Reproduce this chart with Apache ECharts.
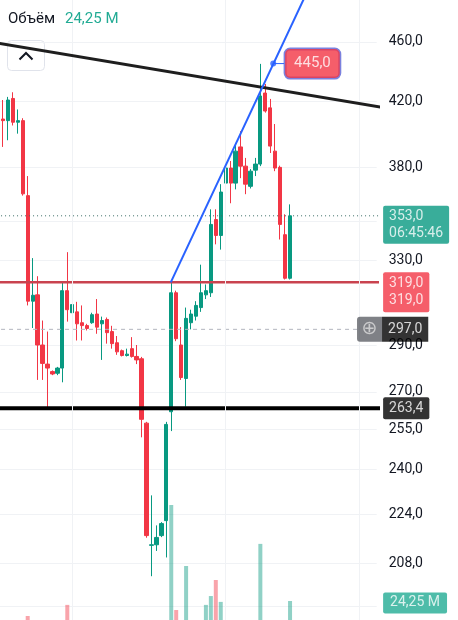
<!DOCTYPE html>
<html>
<head>
<meta charset="utf-8">
<script src="https://cdn.jsdelivr.net/npm/echarts@6/dist/echarts.min.js"></script>
<style>
    html, body { margin: 0; padding: 0; background: #fff; }
    #chart { width: 458px; height: 620px; }
</style>
</head>
<body>
<div id="chart"></div>
<script>
    // свечи: [open, close, low, high]
    const candles = [
        [397.3, 406.5, 396, 408], [409, 408, 392, 421], [408, 421, 396, 423], [422, 407, 405, 426],
        [407, 408, 400, 415], [408, 365, 364, 409.5], [364, 310, 308, 375], [310, 312.8, 297.6, 331],
        [313, 290, 275, 322], [290, 282, 275, 301], [281.7, 280, 262.7, 296], [278.5, 277.5, 277, 279],
        [277.8, 280, 277, 280.5], [280, 315, 274, 319], [315, 306, 300.5, 334], [304.6, 308.4, 300.5, 320],
        [305, 299.5, 292, 309.7], [300, 298.7, 292, 308], [298.7, 297.4, 296.5, 299.5], [300, 303.7, 299.5, 304.6],
        [304, 298, 295, 311], [299.5, 301, 283.5, 302.8], [301.5, 295.5, 290.6, 302.4], [296, 290.6, 288.4, 298.6],
        [291, 287, 285.7, 294], [287.5, 285.4, 285, 288], [285.4, 286, 285, 288.4], [288.4, 285, 284.5, 293.5],
        [285, 283.5, 281.7, 290], [284, 259, 252, 284.8], [257.5, 217, 216.3, 258], [213.8, 214, 204, 230.7],
        [214, 216.4, 212, 220.4], [217, 221, 216.5, 221.5], [222, 257, 209.9, 258], [262, 314, 254.4, 319],
        [314, 292.8, 291.7, 315], [290, 276, 275, 298], [275.6, 302, 264, 307], [300, 304, 297, 306],
        [303, 308, 301, 310], [307, 314, 305, 327.7], [313, 315, 311, 318], [314, 348.4, 312, 356.5],
        [351, 342.6, 338, 356.5], [342.6, 366, 335.3, 370.4], [371, 379.6, 366.5, 382.5], [379.6, 371, 359.8, 383.7],
        [371, 389.5, 367.5, 393.7], [392, 380.7, 373.8, 401.5], [380.7, 370.4, 364.8, 385.5], [369.2, 377.8, 368, 379],
        [378.4, 381.9, 375, 385.5], [381.9, 423.6, 380.7, 444.8], [425.5, 414, 413, 431.4], [416, 392.5, 388.4, 421.7],
        [389.5, 379.6, 377.8, 405.9], [380, 348.4, 340.5, 381], [343, 321, 320.4, 353.8], [321, 353, 320.4, 359.2]
    ];
    // объём, млн
    const volumes = [
        4, 5, 4, 5, 3, 7, 11.7, 6, 7, 5, 6, 3, 3, 8, 21, 5, 4, 3, 2, 3,
        4, 5, 4, 4, 3, 2, 2, 3, 3, 8, 8, 6, 4, 3, 8, 104.5, 16.7, 8, 53.5, 6,
        7, 8, 21, 28.4, 41.8, 23.5, 7, 6, 8, 6, 5, 4, 5, 72, 8, 8, 7, 8, 8, 24.25
    ];
    const priceTicks = [460, 420, 380, 330, 290, 270, 255, 240, 224, 208];
    const gridPrices = [460, 420, 380, 350, 330, 290, 270, 255, 240, 224, 208, 195];
    const gridBars = [15, 46, 73];

    const lastPrice = 353;
    const timerText = '06:45:46';
    const alertPrice = 319;
    const crossPrice = 297;
    const supportPrice = 263.4;
    const lastVolume = 24.25;
    const resistLine = [[-1, 459.6], [77.6, 416.3]];
    const trendLine = [[34.9, 319], [62.1, 493.5]];
    const markPrice = 445;
    const markAt = 55.6;
    const markLabelAt = 57.8;
    const lineStart = -1;
    const labelAt = 77.6;
    const crossEnd = 72.53;

    const UP = '#089981', DOWN = '#f23645';
    const N = 77;
    const cats = [];
    for (let i = 0; i < N; i++) cats.push(String(i));
    const candleData = cats.map((c, i) => candles[i] || '-');
    const volumeData = cats.map((c, i) => {
        if (volumes[i] === undefined) return '-';
        const up = candles[i][1] >= candles[i][0];
        return { value: volumes[i], itemStyle: { color: up ? 'rgba(8,153,129,0.45)' : 'rgba(242,54,69,0.45)' } };
    });
    const fmt = v => v.toFixed(1).replace('.', ',');

    function level(price, end, style) {
        return {
            type: 'line', xAxisIndex: 1, yAxisIndex: 0, clip: false, silent: true,
            symbol: 'none', z: 4,
            data: [[lineStart, price], [end, price]],
            lineStyle: style
        };
    }

    const myChart = echarts.init(document.getElementById('chart'));
    const gridPos = { left: -4.475, width: N * 4.95, outerBoundsMode: 'none' };

    const option = {
        animation: false,
        title: {
            left: 8, top: 10, padding: 0,
            text: '{a|Объём}  {b|24,25 M}',
            textStyle: {
                fontWeight: 'normal',
                rich: {
                    a: { fontSize: 15, color: '#131722', fontFamily: 'Roboto', fontWeight: 'normal' },
                    b: { fontSize: 15, color: '#22ab94', fontFamily: 'Roboto', fontWeight: 'normal' }
                }
            }
        },
        grid: [
            Object.assign({ top: 0, height: 620 }, gridPos),
            Object.assign({ top: 450, height: 180 }, gridPos)
        ],
        xAxis: [
            { type: 'category', gridIndex: 0, data: cats, show: false },
            { type: 'value', gridIndex: 0, min: -0.5, max: N - 0.5, show: false },
            { type: 'category', gridIndex: 1, data: cats, show: false },
            { type: 'value', gridIndex: 1, min: -0.5, max: N - 0.5, show: false }
        ],
        yAxis: [
            {
                type: 'log', gridIndex: 0, min: 190.85, max: 490.2, position: 'right',
                axisLine: { show: true, lineStyle: { color: '#b2b5be', type: [4, 3] } },
                axisTick: { show: false, customValues: gridPrices },
                axisLabel: {
                    customValues: priceTicks, margin: 12, color: '#131722',
                    fontSize: 14, fontFamily: 'Roboto', formatter: v => fmt(v)
                },
                splitLine: { show: true, lineStyle: { color: '#f0f2f5' } }
            },
            { type: 'value', gridIndex: 1, min: 0, max: 150.5, show: false }
        ],
        graphic: [{
            type: 'group', left: 7, top: 40, z: 100,
            children: [
                { type: 'rect', shape: { x: 0, y: 0, width: 37, height: 30, r: 4 },
                  style: { fill: 'rgba(255,255,255,0.8)', stroke: '#e0e3eb', lineWidth: 1 } },
                { type: 'polyline', shape: { points: [[12, 19], [18.5, 12.5], [25, 19]] },
                  style: { stroke: '#131722', lineWidth: 2, fill: null } }
            ]
        }],
        series: [
            {
                name: 'Объём', type: 'bar', xAxisIndex: 2, yAxisIndex: 1,
                data: volumeData, barWidth: 4, z: 1, silent: true
            },
            {
                name: 'Цена', type: 'candlestick', xAxisIndex: 0, yAxisIndex: 0,
                data: candleData, barWidth: 3.8, z: 3, silent: true,
                itemStyle: { color: UP, color0: DOWN, borderColor: UP, borderColor0: DOWN, borderWidth: 1 },
                markLine: {
                    silent: true, symbol: ['none', 'none'], label: { show: false },
                    lineStyle: { color: '#f0f2f5', width: 1, type: 'solid' },
                    data: gridBars.map(i => ({ xAxis: i }))
                }
            },
            level(lastPrice, labelAt, { color: '#3d6f68', width: 1, type: [1, 3] }),
            level(alertPrice, labelAt, { color: '#c9434f', width: 2.5 }),
            level(crossPrice, crossEnd, { color: '#b2b5be', width: 1, type: [4, 4] }),
            level(supportPrice, labelAt, { color: '#000', width: 4 }),
            {
                type: 'line', xAxisIndex: 1, yAxisIndex: 0, clip: false, silent: true, symbol: 'none', z: 5,
                data: resistLine, lineStyle: { color: '#1e1e1e', width: 3 }
            },
            {
                type: 'line', xAxisIndex: 1, yAxisIndex: 0, clip: false, silent: true, symbol: 'none', z: 5,
                data: trendLine, lineStyle: { color: '#2962ff', width: 2 }
            },
            {
                type: 'line', xAxisIndex: 1, yAxisIndex: 0, clip: false, silent: true, symbol: 'none', z: 5,
                data: [[markAt, markPrice], [markLabelAt, markPrice]], lineStyle: { color: '#2962ff', width: 1 }
            },
            {
                type: 'scatter', xAxisIndex: 1, yAxisIndex: 0, clip: false, silent: true, z: 6,
                symbolSize: 6, itemStyle: { color: '#2962ff' },
                data: [[markAt, markPrice]]
            },
            {
                type: 'scatter', xAxisIndex: 1, yAxisIndex: 0, clip: false, silent: true, z: 10,
                symbolSize: 0,
                label: {
                    show: true, position: 'right', distance: 1, color: '#fff', fontSize: 14,
                    fontFamily: 'Roboto', lineHeight: 17, padding: [2, 6, 2, 6], borderRadius: 2
                },
                data: [
                    { value: [labelAt, lastPrice], label: { formatter: fmt(lastPrice) + '\n' + timerText, backgroundColor: UP, offset: [0, 9] } },
                    { value: [labelAt, alertPrice], label: { formatter: fmt(alertPrice) + '\n' + fmt(alertPrice), backgroundColor: DOWN, padding: [3, 6, 3, 6], offset: [0, 10] } },
                    { value: [labelAt, supportPrice], label: { formatter: fmt(supportPrice), backgroundColor: '#000', padding: [3, 6, 2, 6] } },
                    {
                        value: [crossEnd, crossPrice],
                        label: {
                            formatter: '{i|⊕}{v|' + fmt(crossPrice) + '}', padding: 0, distance: 0,
                            rich: {
                                i: { width: 25, height: 25, align: 'center', backgroundColor: 'rgba(60,63,70,0.82)',
                                     color: '#ddd', fontSize: 19, fontFamily: 'DejaVu Sans', borderRadius: [3, 0, 0, 3] },
                                v: { height: 25, padding: [0, 6, 0, 6], backgroundColor: '#000', color: '#fff',
                                     fontSize: 14, fontFamily: 'Roboto' }
                            }
                        }
                    },
                    {
                        value: [markLabelAt, markPrice],
                        label: { formatter: fmt(markPrice), backgroundColor: DOWN, borderColor: '#5a62d6',
                                 borderWidth: 1.5, borderRadius: 5, padding: [6, 9, 6, 9], fontSize: 15 }
                    }
                ]
            },
            {
                type: 'scatter', xAxisIndex: 3, yAxisIndex: 1, clip: false, silent: true, z: 10,
                symbolSize: 0,
                label: {
                    show: true, position: 'right', distance: 1, color: '#fff', fontSize: 14,
                    fontFamily: 'Roboto', padding: [4, 7, 3, 7], borderRadius: 2, backgroundColor: '#22ab94',
                    formatter: lastVolume.toFixed(2).replace('.', ',') + ' M', offset: [0, 2]
                },
                data: [[labelAt, lastVolume]]
            }
        ]
    };
    myChart.setOption(option);
</script>
</body>
</html>
